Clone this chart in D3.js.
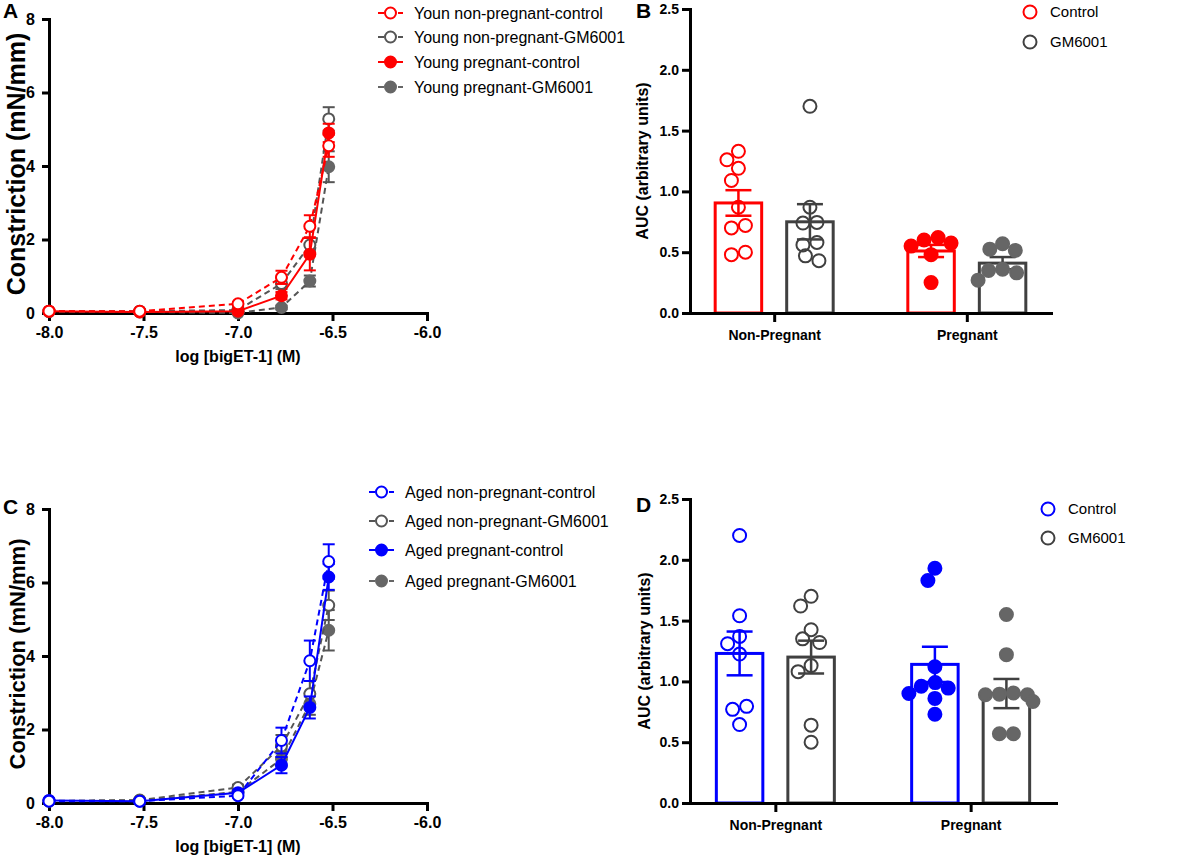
<!DOCTYPE html>
<html>
<head>
<meta charset="utf-8">
<script src="https://cdn.jsdelivr.net/npm/d3@7"></script>
<style>
    body { margin: 0; background: #fff; }
    svg { font-family: "Liberation Sans", Arial, sans-serif; }
</style>
</head>
<body>
<svg id="fig" width="1200" height="858"></svg>
<script>
// 剂量 log [bigET-1] (M)
const dose = [-8, -7.52, -7, -6.77, -6.62, -6.52];
const dose_ticks = [-8, -7.5, -7, -6.5, -6];
const constriction_ticks = [0, 2, 4, 6, 8];

// A: young
const young_names = ['Youn non-pregnant-control', 'Young non-pregnant-GM6001', 'Young pregnant-control', 'Young pregnant-GM6001'];
const young_mean = [
    [0.05, 0.05, 0.25, 0.97, 2.36, 4.55],
    [0.05, 0.05, 0.08, 0.80, 1.85, 5.28],
    [0.05, 0.03, 0.05, 0.47, 1.60, 4.90],
    [0.04, 0.03, 0.00, 0.15, 0.87, 3.98]
];
const young_sem = [
    [0.02, 0.02, 0.05, 0.18, 0.30, 0.30],
    [0.02, 0.02, 0.03, 0.15, 0.20, 0.32],
    [0.02, 0.02, 0.03, 0.10, 0.44, 0.25],
    [0.02, 0.02, 0.02, 0.05, 0.15, 0.42]
];

// C: aged
const aged_names = ['Aged non-pregnant-control', 'Aged non-pregnant-GM6001', 'Aged pregnant-control', 'Aged pregnant-GM6001'];
const aged_mean = [
    [0.05, 0.05, 0.20, 1.70, 3.87, 6.57],
    [0.05, 0.08, 0.42, 1.55, 2.97, 5.38],
    [0.07, 0.05, 0.28, 1.03, 2.60, 6.15],
    [0.06, 0.07, 0.30, 1.20, 2.70, 4.70]
];
const aged_sem = [
    [0.02, 0.03, 0.05, 0.35, 0.55, 0.47],
    [0.02, 0.03, 0.08, 0.30, 0.35, 0.40],
    [0.02, 0.02, 0.04, 0.22, 0.30, 0.35],
    [0.02, 0.02, 0.04, 0.20, 0.30, 0.55]
];

// B / D: AUC
const groups = ['Non-Pregnant', 'Pregnant'];
const treatments = ['Control', 'GM6001'];
const auc_ticks = [0, 0.5, 1.0, 1.5, 2.0, 2.5];

const young_np_control = [1.33, 1.26, 1.19, 1.09, 0.87, 0.72, 0.70, 0.50, 0.48];
const young_np_gm = [1.70, 0.87, 0.745, 0.74, 0.58, 0.56, 0.47, 0.43];
const young_p_control = [0.62, 0.60, 0.575, 0.55, 0.48, 0.25];
const young_p_gm = [0.57, 0.525, 0.515, 0.36, 0.35, 0.33, 0.27];
const young_auc_mean = [0.905, 0.75, 0.51, 0.41];
const young_auc_sem = [0.105, 0.145, 0.05, 0.05];

const aged_np_control = [2.20, 1.54, 1.37, 1.31, 1.225, 0.795, 0.77, 0.645];
const aged_np_gm = [1.70, 1.62, 1.425, 1.35, 1.32, 1.13, 1.08, 0.64, 0.50];
const aged_p_control = [1.93, 1.83, 1.12, 0.99, 0.96, 0.945, 0.90, 0.86, 0.73];
const aged_p_gm = [1.55, 1.22, 0.905, 0.895, 0.89, 0.89, 0.835, 0.57, 0.57];
const aged_auc_mean = [1.23, 1.20, 1.14, 0.90];
const aged_auc_sem = [0.18, 0.135, 0.145, 0.12];

const RED = '#ff0000', BLUE = '#0000ff', GRAY = '#555555', GRAY_FILL = '#666666', BAR_GRAY = '#404040';
const FONT = '"Liberation Sans", Arial, sans-serif';

let svg = d3.select('#fig');

function style_axis(g, fs) {
    g.attr('font-family', FONT);
    g.select('.domain').attr('stroke', '#000').attr('stroke-width', 3).attr('stroke-linecap', 'square');
    g.selectAll('.tick line').attr('stroke', '#000').attr('stroke-width', 3);
    g.selectAll('.tick text').attr('fill', '#000').attr('font-size', fs).attr('font-weight', 'bold');
}

function panel_letter(t, x, y) {
    svg.append('text').attr('x', x).attr('y', y)
        .attr('font-size', 21).attr('font-weight', 'bold').text(t);
}

// 浓度-收缩曲线
function draw_curve(opt) {
    let x = d3.scaleLinear().domain([-8, -6]).range([49, 427]);
    let y = d3.scaleLinear().domain([0, 8]).range([opt.bottom, opt.bottom - 294]);
    let g = svg.append('g');

    g.append('g').attr('transform', `translate(0,${opt.bottom})`)
        .call(d3.axisBottom(x).tickValues(dose_ticks).tickFormat(d => d.toFixed(1))
            .tickSize(8).tickSizeOuter(0).tickPadding(6))
        .call(a => style_axis(a, 16));
    g.append('g').attr('transform', 'translate(49,0)')
        .call(d3.axisLeft(y).tickValues(constriction_ticks).tickFormat(d3.format('d'))
            .tickSize(7).tickSizeOuter(0).tickPadding(7))
        .call(a => style_axis(a, 16));

    g.append('text').attr('x', 238).attr('y', opt.bottom + 49)
        .attr('text-anchor', 'middle').attr('font-size', 16).attr('font-weight', 'bold')
        .text('log [bigET-1] (M)');
    g.append('text').attr('transform', `translate(25,${opt.bottom - 149}) rotate(-90)`)
        .attr('text-anchor', 'middle').attr('font-size', opt.title_size).attr('font-weight', 'bold')
        .text('Constriction (mN/mm)');

    let line = d3.line().x(d => x(d.x)).y(d => y(d.m));
    // 灰色在下，彩色在上
    let order = [3, 1, 2, 0];
    order.forEach(i => {
        let s = opt.styles[i];
        let pts = dose.map((d, j) => ({x: d, m: opt.mean[i][j], e: opt.sem[i][j]}));
        let sg = g.append('g');
        sg.append('path').datum(pts)
            .attr('fill', 'none').attr('stroke', s.color).attr('stroke-width', 2)
            .attr('stroke-dasharray', s.dash ? '6,4' : null)
            .attr('d', line);
        let eb = sg.selectAll('.err').data(pts).join('g')
            .attr('stroke', s.color).attr('stroke-width', 2);
        eb.append('line').attr('x1', d => x(d.x)).attr('x2', d => x(d.x))
            .attr('y1', d => y(d.m - d.e)).attr('y2', d => y(d.m + d.e));
        eb.append('line').attr('x1', d => x(d.x) - 6).attr('x2', d => x(d.x) + 6)
            .attr('y1', d => y(d.m + d.e)).attr('y2', d => y(d.m + d.e));
        eb.append('line').attr('x1', d => x(d.x) - 6).attr('x2', d => x(d.x) + 6)
            .attr('y1', d => y(Math.max(0, d.m - d.e))).attr('y2', d => y(Math.max(0, d.m - d.e)));
        sg.selectAll('circle').data(pts).join('circle')
            .attr('cx', d => x(d.x)).attr('cy', d => y(d.m)).attr('r', 5.5)
            .attr('fill', s.filled ? s.fill : '#fff')
            .attr('stroke', s.filled ? s.fill : s.color).attr('stroke-width', 2);
    });

    // 图例
    opt.names.forEach((name, i) => {
        let s = opt.styles[i];
        let ly = opt.legend_y[i];
        let lg = g.append('g').attr('transform', `translate(${opt.legend_x},${ly})`);
        lg.append('line').attr('x1', 0).attr('x2', 25)
            .attr('stroke', s.filled ? s.fill : s.color).attr('stroke-width', 2)
            .attr('stroke-dasharray', s.dash ? '6,4' : null);
        lg.append('circle').attr('cx', 12.5).attr('r', 5.5)
            .attr('fill', s.filled ? s.fill : '#fff')
            .attr('stroke', s.filled ? s.fill : s.color).attr('stroke-width', 2);
        lg.append('text').attr('x', 36).attr('dy', '0.35em')
            .attr('font-size', 16).text(name);
    });
}

// 散点避让（beeswarm），同一行的点再居中
function swarm(values, y, r) {
    let placed = [];
    values.forEach(v => {
        let py = y(v);
        let dx = 0;
        for (let k = 0; k < 200; k++) {
            let c = (k % 2 === 0 ? 1 : -1) * Math.ceil(k / 2) * 0.5;
            let ok = placed.every(p => Math.hypot(p.dx - c, p.py - py) >= 2 * r + 1);
            if (ok) { dx = c; break; }
        }
        placed.push({v: v, dx: dx, py: py});
    });
    let sorted = placed.slice().sort((a, b) => a.py - b.py);
    let rows = [];
    sorted.forEach(p => {
        let last = rows[rows.length - 1];
        if (last && p.py - last[last.length - 1].py < 4) last.push(p);
        else rows.push([p]);
    });
    rows.forEach(row => {
        if (row.length < 2) return;
        let m = d3.mean(row, p => p.dx);
        row.forEach(p => p.dx -= m);
    });
    return placed;
}

// AUC 柱状图
function draw_auc(opt) {
    let x0 = d3.scalePoint().domain(groups).range([690, opt.right]).padding(0.437);
    let x1 = d3.scaleBand().domain(treatments).range([-59, 59]).paddingInner(0.35);
    let y = d3.scaleLinear().domain([0, 2.5]).range([opt.bottom, opt.bottom - 304]);
    let g = svg.append('g');

    let cells = [];
    groups.forEach((grp, gi) => {
        treatments.forEach((tr, ti) => {
            let k = gi * 2 + ti;
            cells.push({
                grp: grp, tr: tr, filled: gi === 1,
                color: ti === 0 ? opt.color : BAR_GRAY,
                mean: opt.mean[k], sem: opt.sem[k], pts: opt.points[k]
            });
        });
    });

    cells.forEach(c => {
        let cx = x0(c.grp) + x1(c.tr) + x1.bandwidth() / 2;
        let cg = g.append('g');
        cg.append('rect')
            .attr('x', cx - x1.bandwidth() / 2).attr('width', x1.bandwidth())
            .attr('y', y(c.mean)).attr('height', y(0) - y(c.mean))
            .attr('fill', '#fff').attr('stroke', c.color).attr('stroke-width', 3);
        let eg = cg.append('g').attr('stroke', c.color).attr('stroke-width', 2.5);
        eg.append('line').attr('x1', cx).attr('x2', cx)
            .attr('y1', y(c.mean - c.sem)).attr('y2', y(c.mean + c.sem));
        [c.mean - c.sem, c.mean + c.sem].forEach(v => {
            eg.append('line').attr('x1', cx - 13).attr('x2', cx + 13)
                .attr('y1', y(v)).attr('y2', y(v));
        });
        let fill = c.tr === 'Control' ? opt.color : GRAY_FILL;
        cg.selectAll('circle').data(swarm(c.pts, y, 6.5)).join('circle')
            .attr('cx', d => cx + d.dx).attr('cy', d => d.py).attr('r', 6.5)
            .attr('fill', c.filled ? fill : '#fff')
            .attr('fill-opacity', c.filled ? 1 : 0)
            .attr('stroke', c.filled ? fill : c.color).attr('stroke-width', 2);
    });

    g.append('g').attr('transform', `translate(0,${opt.bottom})`)
        .call(d3.axisBottom(x0).tickSize(9).tickSizeOuter(0).tickPadding(8))
        .call(a => style_axis(a, 14));
    g.append('g').attr('transform', 'translate(690,0)')
        .call(d3.axisLeft(y).tickValues(auc_ticks).tickFormat(d3.format('.1f'))
            .tickSize(8).tickSizeOuter(0).tickPadding(3))
        .call(a => style_axis(a, 14));

    g.append('text').attr('transform', `translate(${opt.title_x},${opt.bottom - 152}) rotate(-90)`)
        .attr('text-anchor', 'middle').attr('font-size', 16).attr('font-weight', 'bold')
        .text('AUC (arbitrary units)');

    // 图例
    treatments.forEach((tr, i) => {
        let lg = g.append('g').attr('transform', `translate(${opt.legend_x},${opt.legend_y[i]})`);
        lg.append('circle').attr('r', 6.5).attr('fill', 'none')
            .attr('stroke', i === 0 ? opt.color : BAR_GRAY).attr('stroke-width', 2);
        lg.append('text').attr('x', 20).attr('dy', '0.35em').attr('font-size', 15).text(tr);
    });
}

draw_curve({
    bottom: 313, title_size: 25,
    names: young_names, mean: young_mean, sem: young_sem,
    styles: [
        {color: RED, dash: true, filled: false},
        {color: GRAY, dash: true, filled: false},
        {color: RED, dash: false, filled: true, fill: RED},
        {color: GRAY, dash: true, filled: true, fill: GRAY_FILL}
    ],
    legend_x: 378, legend_y: [13, 37, 62, 87]
});

draw_curve({
    bottom: 803, title_size: 22,
    names: aged_names, mean: aged_mean, sem: aged_sem,
    styles: [
        {color: BLUE, dash: true, filled: false},
        {color: GRAY, dash: true, filled: false},
        {color: BLUE, dash: false, filled: true, fill: BLUE},
        {color: GRAY, dash: true, filled: true, fill: GRAY_FILL}
    ],
    legend_x: 369, legend_y: [492, 521, 550, 581]
});

draw_auc({
    bottom: 313, right: 1051, color: RED, title_x: 648,
    mean: young_auc_mean, sem: young_auc_sem,
    points: [young_np_control, young_np_gm, young_p_control, young_p_gm],
    legend_x: 1030, legend_y: [12, 42]
});

draw_auc({
    bottom: 803, right: 1056, color: BLUE, title_x: 650,
    mean: aged_auc_mean, sem: aged_auc_sem,
    points: [aged_np_control, aged_np_gm, aged_p_control, aged_p_gm],
    legend_x: 1048, legend_y: [509, 538]
});

panel_letter('A', 3, 18);
panel_letter('B', 636, 18);
panel_letter('C', 3, 514);
panel_letter('D', 636, 512);
</script>
</body>
</html>
